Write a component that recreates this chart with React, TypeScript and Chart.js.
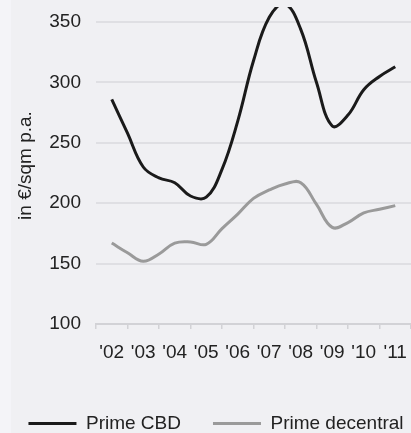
import React, { useEffect, useRef } from "react";
import { Chart, registerables } from "chart.js";

Chart.register(...registerables);

const yearLabels = ["'02", "'03", "'04", "'05", "'06", "'07", "'08", "'09", "'10", "'11"];

const yTickValues = [100, 150, 200, 250, 300, 350];

const periods = [
  2002, 2002.5, 2003, 2003.5, 2004, 2004.5, 2005, 2005.5, 2006, 2006.5,
  2007, 2007.5, 2008, 2008.5, 2009, 2009.5, 2010, 2010.5, 2011,
];

const primeCBD = [
  286, 258, 230, 221, 217, 206, 205, 228, 268, 318,
  354, 365, 344, 300, 264, 273, 294, 305, 313,
];

const primeDecentral = [
  167, 159, 152, 158, 167, 168, 166, 179, 191, 204,
  211, 216, 217, 199, 180, 184, 192, 195, 198,
];

const seriesNames = ["Prime CBD", "Prime decentral"];
const yTitle = "in €/sqm p.a.";

const FONT = "'Liberation Sans', Arial, Helvetica, sans-serif";
const TEXT = "#222222";
const CANVAS_W = 440;
const CANVAS_H = 443;
const CANVAS_LEFT = -4;

export default function App() {
  const ref = useRef<HTMLCanvasElement | null>(null);

  useEffect(() => {
    if (!ref.current) return;
    const font = { family: FONT, size: 19 };
    const chart = new Chart(ref.current, {
      type: "line",
      data: {
        labels: yearLabels,
        datasets: [
          {
            label: seriesNames[0],
            data: periods.map((p, i) => ({ x: p, y: primeCBD[i] })),
            borderColor: "#1a1a1a",
            backgroundColor: "#1a1a1a",
            borderWidth: 3,
            pointRadius: 0,
            tension: 0.4,
            fill: false,
            xAxisID: "xl",
          },
          {
            label: seriesNames[1],
            data: periods.map((p, i) => ({ x: p, y: primeDecentral[i] })),
            borderColor: "#9a9a9a",
            backgroundColor: "#9a9a9a",
            borderWidth: 3,
            pointRadius: 0,
            tension: 0.4,
            fill: false,
            xAxisID: "xl",
          },
        ],
      },
      options: {
        responsive: false,
        animation: false,
        devicePixelRatio: 1,
        layout: { padding: { left: 0, top: 7, right: 0, bottom: 0 } },
        plugins: {
          tooltip: { enabled: false },
          legend: {
            position: "bottom",
            labels: {
              boxWidth: 48,
              boxHeight: 3,
              padding: 32,
              color: TEXT,
              font,
              generateLabels: (c: any) =>
                Chart.defaults.plugins.legend.labels
                  .generateLabels(c)
                  .map((l: any) => ({ ...l, fillStyle: l.strokeStyle, lineWidth: 0 })),
            },
          },
        },
        scales: {
          xl: {
            type: "linear",
            axis: "x",
            min: 2001.5,
            max: 2011.5,
            display: false,
          },
          x: {
            type: "category",
            position: "bottom",
            offset: true,
            grid: {
              display: true,
              drawOnChartArea: false,
              drawTicks: true,
              tickLength: 5,
              offset: true,
              color: "#d2d2d6",
              lineWidth: 1.5,
            },
            border: { display: true, color: "#d2d2d6", width: 2 },
            ticks: {
              padding: 12,
              color: TEXT,
              font,
              maxRotation: 0,
              autoSkip: false,
            },
            afterFit: (s: any) => {
              s.height = 58;
            },
          },
          y: {
            min: 100,
            max: 362.5,
            afterBuildTicks: (s: any) => {
              s.ticks = yTickValues.map((v) => ({ value: v }));
            },
            ticks: { padding: 15, color: TEXT, font },
            grid: { color: "#dfdfe3", lineWidth: 2, drawTicks: false },
            border: { display: false },
            title: {
              display: true,
              text: yTitle,
              color: TEXT,
              font,
              padding: { top: 18.6, bottom: 0 },
            },
            afterFit: (s: any) => {
              s.width = 100;
              s.paddingTop = 0;
              s.paddingBottom = 0;
            },
          },
          yr: {
            type: "linear",
            axis: "y",
            position: "right",
            min: 100,
            max: 362.5,
            grid: { display: false, drawOnChartArea: false, drawTicks: false },
            border: { display: false },
            ticks: { display: false },
            afterFit: (s: any) => {
              s.width = 25;
              s.paddingTop = 0;
              s.paddingBottom = 0;
            },
          },
        },
      },
    } as any);
    return () => chart.destroy();
  }, []);

  return (
    <div
      style={{
        position: "absolute",
        left: 0,
        top: 0,
        width: 411,
        height: 433,
        overflow: "hidden",
        background: "#f0f0f3",
      }}
    >
      <div
        style={{
          position: "absolute",
          left: 0,
          top: 0,
          width: 11,
          height: 433,
          background: "#f4f4f8",
        }}
      />
      <canvas
        ref={ref}
        width={CANVAS_W}
        height={CANVAS_H}
        style={{
          position: "absolute",
          left: CANVAS_LEFT,
          top: 0,
          width: CANVAS_W,
          height: CANVAS_H,
        }}
      />
    </div>
  );
}
